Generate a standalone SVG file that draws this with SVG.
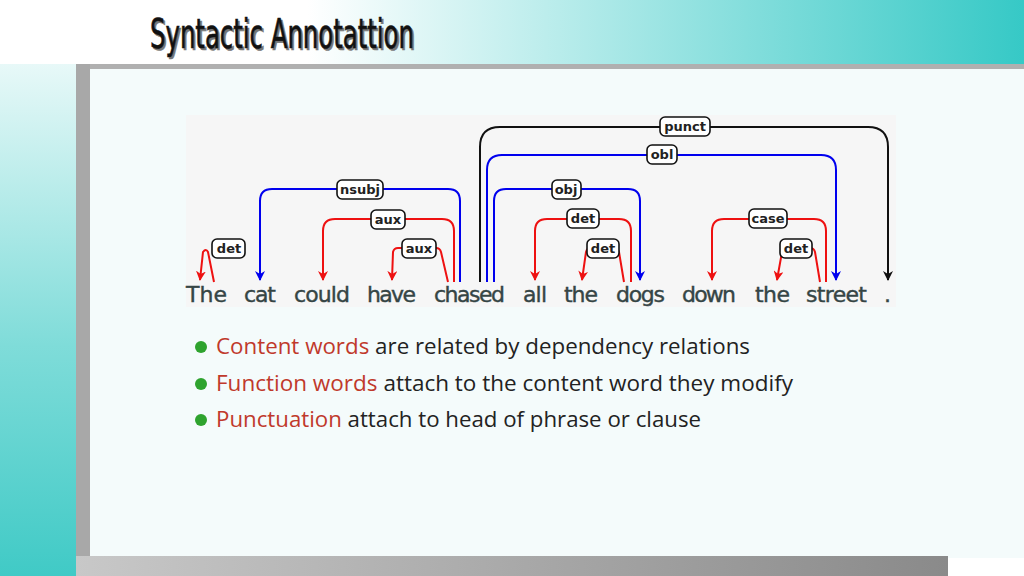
<svg xmlns="http://www.w3.org/2000/svg" width="1024" height="576" viewBox="0 0 1024 576">
<defs>
<linearGradient id="top" x1="0" y1="0" x2="1" y2="0"><stop offset="0.3" stop-color="#ffffff"/><stop offset="1" stop-color="#36c9c6"/></linearGradient>
<linearGradient id="left" x1="0" y1="0" x2="0" y2="1"><stop offset="0" stop-color="#ffffff"/><stop offset="0.6" stop-color="#7fdcd9"/><stop offset="1" stop-color="#40cac6"/></linearGradient>
<linearGradient id="bot" x1="0" y1="0" x2="1" y2="0"><stop offset="0" stop-color="#c8c8c8"/><stop offset="1" stop-color="#8a8a8a"/></linearGradient>
<marker id="ab" viewBox="0 0 10 10" refX="9" refY="5" markerWidth="10" markerHeight="10" markerUnits="userSpaceOnUse" orient="auto"><path d="M0,0 L10,5 L0,10 L3,5 Z" fill="#0000ee"/></marker>
<marker id="ared" viewBox="0 0 10 10" refX="9" refY="5" markerWidth="10" markerHeight="10" markerUnits="userSpaceOnUse" orient="auto"><path d="M0,0 L10,5 L0,10 L3,5 Z" fill="#ee1111"/></marker>
<marker id="ak" viewBox="0 0 10 10" refX="9" refY="5" markerWidth="10" markerHeight="10" markerUnits="userSpaceOnUse" orient="auto"><path d="M0,0 L10,5 L0,10 L3,5 Z" fill="#111"/></marker>
</defs>
<style>
.r{fill:none;stroke:#ee1111;stroke-width:2;marker-end:url(#ared)}
.b{fill:none;stroke:#0000ee;stroke-width:2;marker-end:url(#ab)}
.k{fill:none;stroke:#111;stroke-width:2;marker-end:url(#ak)}
.lb rect{fill:#fff;stroke:#111;stroke-width:1.6}
.lb text{font-family:"DejaVu Sans",sans-serif;font-weight:bold;font-size:13px;fill:#222;text-anchor:middle}
.w{font-family:"DejaVu Sans",sans-serif;font-size:22px;fill:#354545;stroke:#354545;stroke-width:0.4}
.bt{font-family:"Open Sans","Liberation Sans",sans-serif;font-size:21px;fill:#222}
.red{fill:#c0392b}
</style>
<rect width="1024" height="576" fill="#fff"/>
<rect x="0" y="0" width="80" height="576" fill="url(#left)"/>
<rect x="0" y="0" width="1024" height="64" fill="url(#top)"/>
<rect x="90" y="68" width="934" height="490" fill="#f4fbfb"/>
<rect x="76" y="64" width="948" height="5" fill="#b0b0b0"/>
<rect x="76" y="64" width="14" height="512" fill="#a8a8a8"/>
<rect x="76" y="556" width="872" height="20" fill="url(#bot)"/>
<g font-family="DejaVu Sans Condensed, DejaVu Sans" font-size="40" stroke-width="0.6">
<text x="150" y="48" transform="translate(150 0) scale(0.6 1) translate(-150 0)" fill="#777" stroke="#777" dx="3" dy="2" textLength="440" lengthAdjust="spacingAndGlyphs">Syntactic Annotattion</text>
<text x="150" y="48" transform="translate(150 0) scale(0.6 1) translate(-150 0)" fill="#111" stroke="#111" textLength="440" lengthAdjust="spacingAndGlyphs">Syntactic Annotattion</text>
</g>
<rect x="186" y="115" width="710" height="192" fill="#f6f6f6"/>
<g id="words" class="w">
<text x="186" y="302" textLength="41">The</text><text x="244" y="302" textLength="32">cat</text><text x="294" y="302" textLength="56">could</text><text x="367" y="302" textLength="49">have</text><text x="434" y="302" textLength="71">chased</text><text x="523" y="302" textLength="24">all</text><text x="564" y="302" textLength="34">the</text><text x="616" y="302" textLength="49">dogs</text><text x="682" y="302" textLength="54">down</text><text x="755" y="302" textLength="35">the</text><text x="806" y="302" textLength="61">street</text><text x="884" y="302">.</text>
</g>
<g id="connectors">
<path class="r" d="M214,282 L208,252 Q206,248 203,252 L200,280"/>
<path class="b" d="M460,282 L460,201 Q460,189 448,189 L272,189 Q260,189 260,201 L260,280"/>
<path class="r" d="M454,282 L454,231 Q454,219 442,219 L335,219 Q323,219 323,231 L323,280"/>
<path class="r" d="M448,282 L441,252 Q440,248 436,248 L398,248 Q394,248 393,252 L392,280"/>
<path class="k" d="M480,282 L480,147 Q480,127 500,127 L868,127 Q888,127 888,147 L888,280"/>
<path class="b" d="M487,282 L487,170 Q487,155 502,155 L821,155 Q836,155 836,170 L836,280"/>
<path class="b" d="M494,282 L494,201 Q494,189 506,189 L628,189 Q640,189 640,201 L640,280"/>
<path class="r" d="M631,282 L631,231 Q631,219 619,219 L547,219 Q535,219 535,231 L535,280"/>
<path class="r" d="M624,282 L619,252 Q618,248 614,248 L590,248 Q587,248 586,252 L582,280"/>
<path class="r" d="M826,282 L826,231 Q826,219 814,219 L724,219 Q712,219 712,231 L712,280"/>
<path class="r" d="M820,282 L815,252 Q814,248 810,248 L786,248 Q783,248 782,252 L777,280"/>
</g>
<g id="labels" class="lb">
<g id="l-det1"><rect x="212" y="239" width="33" height="19" rx="5"/><text x="229" y="253">det</text></g>
<g id="l-nsubj"><rect x="337" y="180" width="46" height="19" rx="5"/><text x="360" y="194">nsubj</text></g>
<g id="l-aux1"><rect x="371" y="210" width="34" height="19" rx="5"/><text x="388" y="224">aux</text></g>
<g id="l-aux2"><rect x="402" y="239" width="34" height="19" rx="5"/><text x="419" y="253">aux</text></g>
<g id="l-punct"><rect x="660" y="117" width="50" height="19" rx="5"/><text x="685" y="131">punct</text></g>
<g id="l-obl"><rect x="647" y="145" width="30" height="19" rx="5"/><text x="662" y="159">obl</text></g>
<g id="l-obj"><rect x="552" y="180" width="29" height="19" rx="5"/><text x="566" y="194">obj</text></g>
<g id="l-det2"><rect x="567" y="209" width="32" height="19" rx="5"/><text x="583" y="223">det</text></g>
<g id="l-det3"><rect x="587" y="239" width="32" height="19" rx="5"/><text x="603" y="253">det</text></g>
<g id="l-case"><rect x="749" y="209" width="38" height="19" rx="5"/><text x="768" y="223">case</text></g>
<g id="l-det4"><rect x="780" y="239" width="32" height="19" rx="5"/><text x="796" y="253">det</text></g>
</g>
<g id="bullets">
<circle cx="201" cy="347" r="6" fill="#2ea32e"/><circle cx="201" cy="384" r="6" fill="#2ea32e"/><circle cx="201" cy="420" r="6" fill="#2ea32e"/>
<text class="bt" x="216" y="354" textLength="534" lengthAdjust="spacingAndGlyphs"><tspan class="red">Content words</tspan> are related by dependency relations</text>
<text class="bt" x="216" y="391" textLength="577" lengthAdjust="spacingAndGlyphs"><tspan class="red">Function words</tspan> attach to the content word they modify</text>
<text class="bt" x="216" y="427" textLength="485" lengthAdjust="spacingAndGlyphs"><tspan class="red">Punctuation</tspan> attach to head of phrase or clause</text>
</g>
</svg>
